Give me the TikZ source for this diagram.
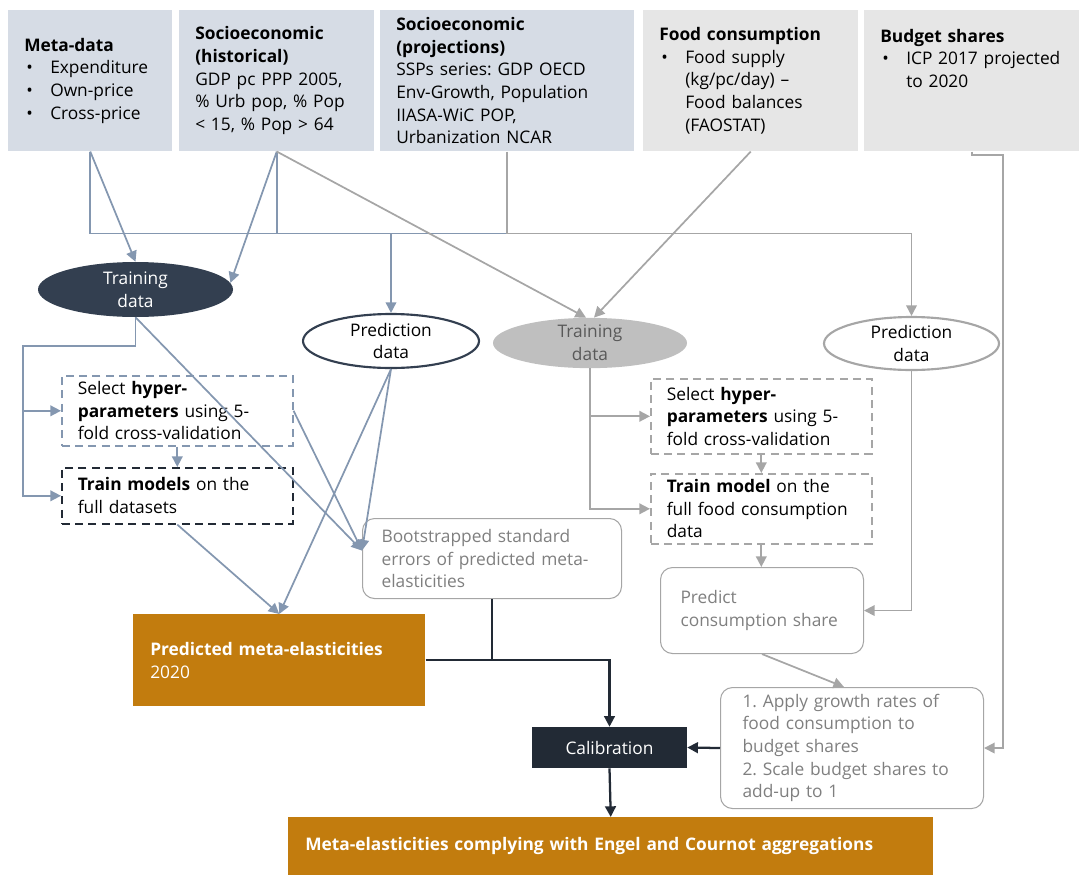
\documentclass[tikz,border=0pt]{standalone}
\usepackage{fontspec}
\setmainfont{Open Sans}
\usetikzlibrary{shapes.geometric,arrows.meta,positioning}
\definecolor{boxblue}{HTML}{D6DCE5}
\definecolor{boxgray}{HTML}{E6E6E6}
\definecolor{lineblue}{HTML}{8497B0}
\definecolor{linegray}{HTML}{A6A6A6}
\definecolor{navy}{HTML}{333F50}
\definecolor{darknavy}{HTML}{222A35}
\definecolor{ochre}{HTML}{C27C0E}
\definecolor{softgray}{HTML}{BFBFBF}
\definecolor{textgray}{HTML}{7F7F7F}
\definecolor{ovaltext}{HTML}{595959}
\newcommand{\bulletmark}{\hspace*{1.5pt}\makebox[18pt][l]{\textbullet}}
\newcommand{\hangspace}{\hspace*{19.5pt}}
\frenchspacing

\begin{document}
\begin{tikzpicture}[x=0.75pt, y=-0.75pt,
  every node/.style={font=\fontsize{13}{17}\selectfont, inner ysep=0pt},
  source/.style={anchor=north west, align=left, inner xsep=12pt, minimum height=105.75pt},
  oval/.style={ellipse, align=center, inner sep=0pt},
  dashbox/.style={anchor=north west, align=left, inner xsep=12pt, dash pattern=on 6pt off 4pt, line width=1.2pt},
  softbox/.style={anchor=north west, align=left, draw=linegray, line width=0.8pt, rounded corners=9pt, text=textgray},
  solidbox/.style={anchor=north west, align=left, inner xsep=12.75pt, fill=ochre, text=white},
  blueline/.style={draw=lineblue, line width=1.3pt},
  grayline/.style={draw=linegray, line width=1.3pt},
  darkline/.style={draw=darknavy, line width=1.7pt},
  >={Triangle[length=8pt, width=8pt]},
]
\useasboundingbox (0,0) rectangle (1079,875);

\node[source, fill=boxblue, text width=99pt] (meta) at (8,10)
  {\textbf{Meta-data}\\\bulletmark Expenditure\\\bulletmark Own-price\\\bulletmark Cross-price};
\node[source, fill=boxblue, text width=122.25pt] (hist) at (179,10)
  {\textbf{Socioeconomic}\\\textbf{(historical)}\\GDP pc PPP 2005,\\\% Urb pop, \% Pop\\< 15, \% Pop > 64};
\node[source, fill=boxblue, text width=166.5pt] (proj) at (380,10)
  {\textbf{Socioeconomic}\\\textbf{(projections)}\\SSPs series: GDP OECD\\Env-Growth, Population\\IIASA-WiC POP,\\Urbanization NCAR};
\node[source, fill=boxgray, text width=137.25pt] (food) at (643,10)
  {\textbf{Food consumption}\\\bulletmark Food supply\\\hangspace (kg/pc/day) --\\\hangspace Food balances\\\hangspace (FAOSTAT)};
\node[source, fill=boxgray, text width=137.25pt] (budget) at (864,10)
  {\textbf{Budget shares}\\\bulletmark ICP 2017 projected\\\hangspace to 2020\\~\\~};

\node[oval, fill=navy, text=white, minimum width=146.25pt, minimum height=41.25pt] (train1) at (135.5,289.5) {Training\\data};
\node[oval, draw=navy, line width=1.6pt, minimum width=132pt, minimum height=40.5pt] (pred1) at (391,341) {Prediction\\data};
\node[oval, fill=softgray, text=ovaltext, minimum width=145.5pt, minimum height=37.5pt] (train2) at (590,343) {Training\\data};
\node[oval, draw=linegray, line width=1.6pt, minimum width=131.25pt, minimum height=39.75pt] (pred2) at (911.5,343.5) {Prediction\\data};

\node[dashbox, draw=lineblue, text width=149.25pt, minimum height=52.5pt] (sel1) at (61,375)
  {Select \textbf{hyper-}\\\textbf{parameters} using 5-\\fold cross-validation};
\node[dashbox, draw=darknavy, text width=149.25pt, minimum height=42pt] (trn1) at (61,467)
  {\textbf{Train models} on the\\full datasets};
\node[dashbox, draw=linegray, text width=141.75pt, minimum height=56.25pt] (sel2) at (650,378)
  {Select \textbf{hyper-}\\\textbf{parameters} using 5-\\fold cross-validation};
\node[dashbox, draw=linegray, text width=141.75pt, minimum height=52.5pt] (trn2) at (650,473)
  {\textbf{Train model} on the\\full food consumption\\data};

\node[softbox, inner xsep=14.25pt, text width=165.75pt, minimum height=60pt] (boot) at (362,518)
  {Bootstrapped standard\\errors of predicted meta-\\elasticities};
\node[softbox, inner xsep=15pt, text width=122.25pt, minimum height=64.5pt] (predict) at (660,567)
  {Predict\\consumption share};
\node[softbox, inner xsep=16.5pt, text width=164.25pt, minimum height=90.75pt] (apply) at (720,687)
  {1. Apply growth rates of\\food consumption to\\budget shares\\2. Scale budget shares to\\add-up to 1};

\node[solidbox, text width=193.5pt, minimum height=69pt] (predmeta) at (133,614)
  {\textbf{Predicted meta-elasticities}\\2020};
\node[fill=darknavy, text=white, minimum width=116.25pt, minimum height=30.75pt] (calib) at (609.5,747.5) {Calibration};
\node[solidbox, text width=458.25pt, minimum height=43.5pt] (final) at (288,817)
  {\textbf{Meta-elasticities complying with Engel and Cournot aggregations}};

\coordinate (bus) at ([yshift=-61.5pt]meta.south);
\coordinate (trainleft) at (23,346);
\coordinate (budgetbend) at (1003,155);

\draw[blueline] (meta.south) -- (bus) -- (bus -| proj.south);
\draw[blueline] (hist.south) -- (hist.south |- bus);
\draw[blueline,->] (bus -| pred1.north) -- (pred1.north);
\draw[blueline,->] (meta.south) -- (train1.north);
\draw[blueline,->] (hist.south) -- (train1.4);
\draw[grayline,->] (hist.south) -- ([xshift=-3pt]train2.north);
\draw[grayline,->] (food.south) -- ([xshift=3pt]train2.north);
\draw[grayline,->] (proj.south) -- (proj.south |- bus) -| (pred2.north);
\draw[grayline,->] (budget.south) |- (budgetbend) -- (budgetbend |- apply.east) -- (apply.east);

\draw[blueline,->] (train1.south) |- (trainleft) |- (trn1.west);
\draw[blueline,->] (trainleft |- sel1.west) -- (sel1.west);
\draw[blueline,->] (sel1) -- (trn1);
\draw[blueline,->] (train1.south) -- ([yshift=6pt]boot.west);
\draw[blueline,->] (sel1.east) -- ([yshift=6pt]boot.west);
\draw[blueline,->] (pred1.south) -- ([yshift=6pt]boot.west);
\draw[blueline,->] (pred1.south) -- (predmeta.north);
\draw[blueline,->] (trn1.south) -- (predmeta.north);

\draw[grayline,->] (train2.south) |- (trn2.west);
\draw[grayline,->] (train2.south |- sel2.west) -- (sel2.west);
\draw[grayline,->] (sel2) -- (trn2);
\draw[grayline,->] (trn2.south) -- (trn2.south |- predict.north);
\draw[grayline,->] (pred2.south) |- (predict.east);
\draw[grayline,->] (predict.south) -- ([xshift=-6pt]apply.north);

\draw[darkline,->] (predmeta.east) -| (calib.north);
\draw[darkline] (boot.south) -- (boot.south |- predmeta.east);
\draw[darkline,->] (apply.west) -- (calib.east);
\draw[darkline,->] (calib.south) -- (final.north);
\end{tikzpicture}
\end{document}
